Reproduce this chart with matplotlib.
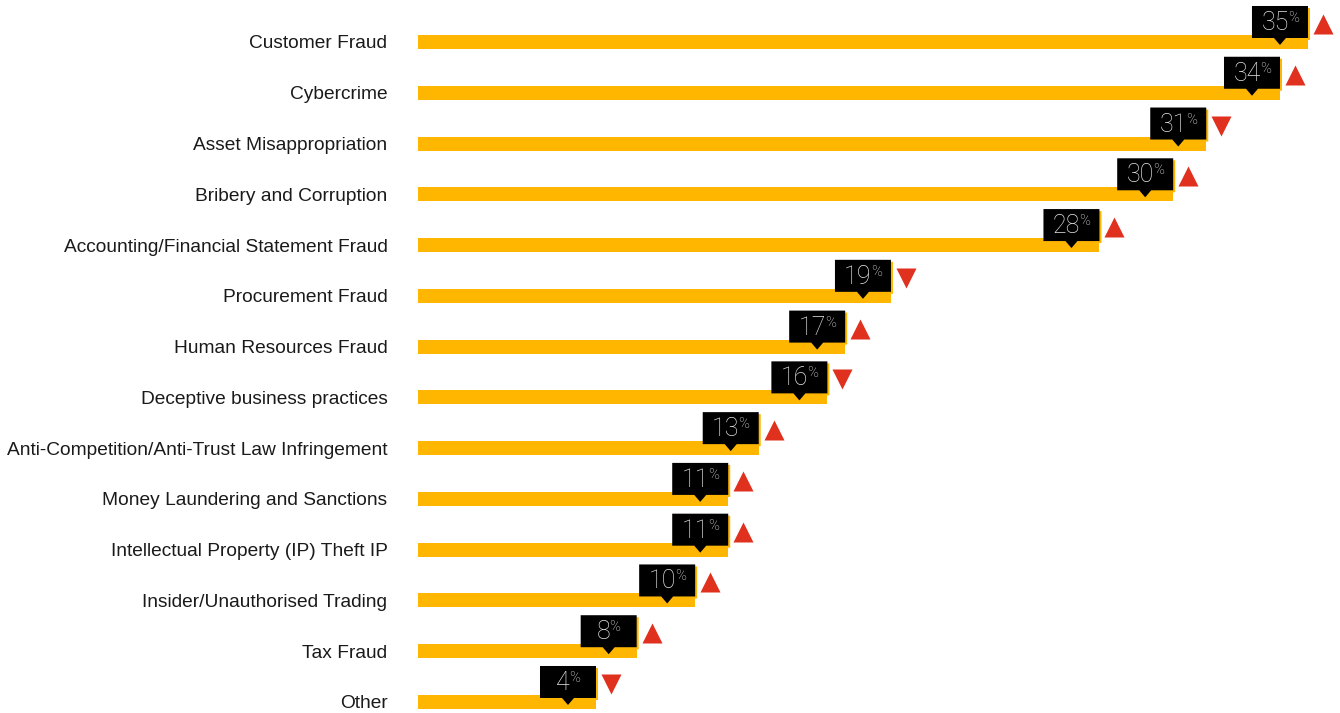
import matplotlib
matplotlib.use("Agg")
import matplotlib.pyplot as plt
from matplotlib.patches import Polygon

# data
categories = [
    "Customer Fraud",
    "Cybercrime",
    "Asset Misappropriation",
    "Bribery and Corruption",
    "Accounting/Financial Statement Fraud",
    "Procurement Fraud",
    "Human Resources Fraud",
    "Deceptive business practices",
    "Anti-Competition/Anti-Trust Law Infringement",
    "Money Laundering and Sanctions",
    "Intellectual Property (IP) Theft IP",
    "Insider/Unauthorised Trading",
    "Tax Fraud",
    "Other",
]
# labelled shares (%)
shares = [35, 34, 31, 30, 28, 19, 17, 16, 13, 11, 11, 10, 8, 4]
# drawn bar lengths as they appear in the picture (same % scale, 35 = 35)
bar_lengths = [35.0, 33.9, 31.0, 29.7, 26.8, 18.6, 16.8, 16.1, 13.4,
               12.2, 12.2, 10.9, 8.6, 7.0]
trend = ["up", "up", "down", "up", "up", "down", "up", "down",
         "up", "up", "up", "up", "up", "down"]

BAR = "#FFB600"
RED = "#E0301E"
BOX = "#000000"

W, H, DPI = 1340, 713, 100
fig = plt.figure(figsize=(W / DPI, H / DPI), dpi=DPI)
ax_left, ax_right = 418, 1340
ax = fig.add_axes([ax_left / W, 0, (ax_right - ax_left) / W, 1])

xmin, xmax = 0, 36.26
n = len(categories)
ymin, ymax = -0.827, n - 1 + 0.217
ax.set_xlim(xmin, xmax)
ax.set_ylim(ymax, ymin)

# pixel -> data unit helpers
px_x = (xmax - xmin) / (ax_right - ax_left)
px_y = (ymax - ymin) / H

y = list(range(n))
half_box = 28 * px_x
ax.barh(y, bar_lengths, left=xmin, height=14 * px_y, color=BAR, zorder=1)

ax.set_yticks(y, categories)
ax.tick_params(axis="y", length=0, pad=22, labelsize=13.8, labelcolor="#1a1a1a")
for lab in ax.get_yticklabels():
    lab.set_fontfamily("Liberation Sans")
ax.set_xticks([])
for s in ax.spines.values():
    s.set_visible(False)
ax.patch.set_alpha(0)

renderer = fig.canvas.get_renderer()

for yi, v, end, tr in zip(y, shares, bar_lengths, trend):
    cx = end - half_box
    top = yi - 36 * px_y
    bot = yi - 4 * px_y
    tip = yi + 3 * px_y
    pts = [(cx - half_box, top), (cx + half_box, top), (cx + half_box, bot),
           (cx + 6 * px_x, bot), (cx, tip), (cx - 6 * px_x, bot),
           (cx - half_box, bot)]
    shadow = [(px + 2 * px_x, py + 2 * px_y) for px, py in pts]
    ax.add_patch(Polygon(shadow, closed=True, color=BAR, lw=0, zorder=2))
    ax.add_patch(Polygon(pts, closed=True, color=BOX, lw=0, zorder=3))

    t_num = ax.text(cx, yi - 12 * px_y, str(v), ha="left", va="baseline",
                    fontsize=18, fontfamily="Roboto", fontweight="light",
                    color="#e6e6e6", zorder=4)
    t_pct = ax.text(cx, yi - 20 * px_y, "%", ha="left", va="baseline",
                    fontsize=10.5, fontfamily="Roboto", fontweight="light",
                    color="#e6e6e6", zorder=4)
    w1 = t_num.get_window_extent(renderer).width - 1
    w2 = t_pct.get_window_extent(renderer).width
    x0 = cx - (w1 + w2) / 2 * px_x
    t_num.set_x(x0)
    t_pct.set_x(x0 + w1 * px_x)

    ax.plot(end + 15 * px_x, yi - 18 * px_y,
            marker="^" if tr == "up" else "v", ms=14, color=RED,
            mec="none", zorder=4, clip_on=False)

fig.savefig("out.png", dpi=DPI)
